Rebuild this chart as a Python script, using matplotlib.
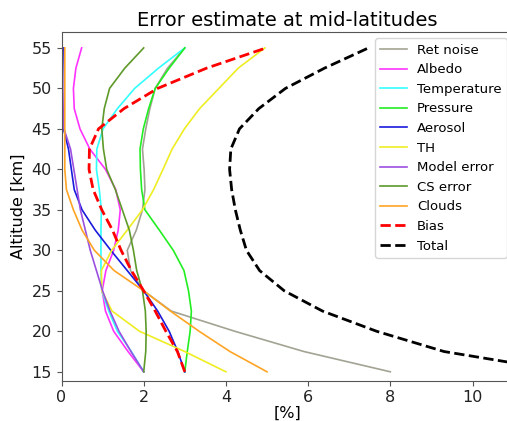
import matplotlib
matplotlib.use("Agg")
import matplotlib.pyplot as plt

altitude = [15, 17.5, 20, 22.5, 25, 27.5, 30, 32.5, 35, 37.5, 40, 42.5, 45, 47.5, 50, 52.5, 55]

ret_noise   = [8.0, 5.9, 4.22, 2.67, 2.0, 1.68, 1.6, 1.82, 1.97, 2.03, 2.01, 1.97, 2.05, 2.15, 2.28, 2.58, 3.0]
albedo      = [2.0, 1.62, 1.27, 1.07, 0.99, 1.08, 1.27, 1.38, 1.43, 1.32, 1.07, 0.69, 0.45, 0.31, 0.29, 0.35, 0.49]
temperature = [2.0, 1.7, 1.36, 1.15, 0.98, 0.96, 0.96, 0.96, 0.97, 0.92, 0.85, 0.86, 1.01, 1.36, 1.78, 2.36, 3.0]
pressure    = [3.0, 3.06, 3.13, 3.16, 3.09, 2.98, 2.72, 2.38, 2.03, 1.95, 1.92, 1.91, 1.99, 2.12, 2.28, 2.62, 3.0]
aerosol     = [3.0, 2.83, 2.62, 2.34, 2.0, 1.6, 1.2, 0.82, 0.5, 0.31, 0.24, 0.17, 0.05, 0.02, 0.02, 0.03, 0.04]
th          = [4.0, 3.0, 1.9, 1.23, 0.98, 0.97, 1.22, 1.6, 1.97, 2.24, 2.47, 2.69, 2.99, 3.36, 3.83, 4.3, 4.95]
model_error = [2.0, 1.69, 1.4, 1.18, 1.0, 0.85, 0.7, 0.58, 0.46, 0.38, 0.3, 0.22, 0.06, 0.04, 0.03, 0.02, 0.02]
cs_error    = [2.0, 2.05, 2.06, 2.04, 1.97, 1.83, 1.75, 1.65, 1.48, 1.31, 1.1, 1.02, 0.98, 1.04, 1.17, 1.54, 2.0]
clouds      = [5.0, 4.1, 3.35, 2.65, 2.0, 1.28, 0.8, 0.5, 0.29, 0.12, 0.08, 0.08, 0.08, 0.08, 0.08, 0.08, 0.08]
bias        = [3.0, 2.82, 2.54, 2.28, 2.0, 1.7, 1.45, 1.24, 0.98, 0.77, 0.67, 0.68, 0.9, 1.52, 2.34, 3.53, 4.98]
total       = [12.3, 9.31, 7.67, 6.35, 5.42, 4.82, 4.5, 4.35, 4.23, 4.14, 4.09, 4.12, 4.33, 4.8, 5.45, 6.4, 7.47]

labels = ["Ret noise", "Albedo", "Temperature", "Pressure", "Aerosol", "TH",
          "Model error", "CS error", "Clouds", "Bias", "Total"]
series = [ret_noise, albedo, temperature, pressure, aerosol, th,
          model_error, cs_error, clouds, bias, total]
colors = ["#a3a394", "#ff33ff", "#33ffff", "#22ee22", "#1a1add", "#eeee22",
          "#9b4fe0", "#5e9a2a", "#ffa424", "#ff0000", "#000000"]

W, H = 507, 421
fig = plt.figure(figsize=(W / 100, H / 100), dpi=100)
left, right = 61.5, 513.6
top, bottom = 31.7, 380.7
ax = fig.add_axes([left / W, (H - bottom) / H, (right - left) / W, (bottom - top) / H])

for name, vals, c in zip(labels, series, colors):
    if name in ("Bias", "Total"):
        ax.plot(vals, altitude, color=c, lw=2.0, ls="--", label=name)
    else:
        ax.plot(vals, altitude, color=c, lw=1.2, label=name)

ax.set_xlim(0, 11)
ax.set_ylim(13.9, 57.0)
ax.set_xticks([0, 2, 4, 6, 8, 10])
ax.set_yticks([15, 20, 25, 30, 35, 40, 45, 50, 55])
ax.tick_params(labelsize=11.5, colors="#222222")
ax.tick_params(color="#555555")
ax.spines["right"].set_visible(False)
for s in ax.spines.values():
    s.set_color("#555555")
ax.set_title("Error estimate at mid-latitudes", fontsize=14, pad=4)
ax.set_xlabel("[%]", fontsize=11.5, labelpad=0)
ax.set_ylabel("Altitude [km]", fontsize=11.5)
ax.legend(loc="upper right", fontsize=9.5)

fig.savefig("out.png", dpi=100)
